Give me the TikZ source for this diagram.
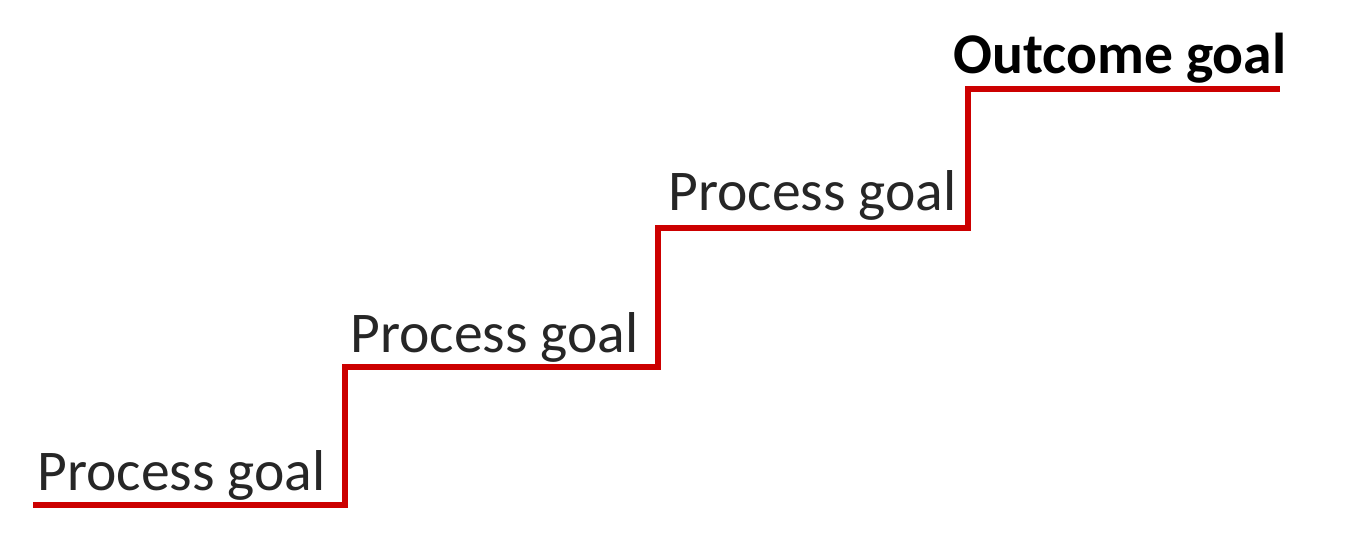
\documentclass[tikz,border=0pt]{standalone}
\usepackage{fontspec}
\setmainfont{Carlito}
\usepackage{xcolor}
\definecolor{stairred}{RGB}{204,0,0}
\tikzset{goal/.style={anchor=base west, inner sep=0pt, text=black!85, font=\fontsize{28.8}{34}\selectfont}}

\begin{document}
\begin{tikzpicture}[x=0.5pt, y=-0.5pt]
  \useasboundingbox (0,0) rectangle (1350,542);
  % Nodes
  \node[goal] (pg1) at (37,490) {Process goal};
  \node[goal] (pg2) at (350,352) {Process goal};
  \node[goal] (pg3) at (668,210) {Process goal};
  \node[goal, font=\fontsize{28.8}{34}\selectfont\bfseries, text=black] (og) at (953,73) {Outcome goal};

  % Steps
  \coordinate (s0) at (33,505);
  \coordinate (s1) at (345,505);
  \coordinate (s2) at (345,367);
  \coordinate (s3) at (658,367);
  \coordinate (s4) at (658,228);
  \coordinate (s5) at (968,228);
  \coordinate (s6) at (968,89);
  \coordinate (s7) at (1280,89);

  \draw[stairred, line width=3.4pt] (s0) -- (s1) -- (s2) -- (s3) -- (s4) -- (s5) -- (s6) -- (s7);
\end{tikzpicture}
\end{document}
